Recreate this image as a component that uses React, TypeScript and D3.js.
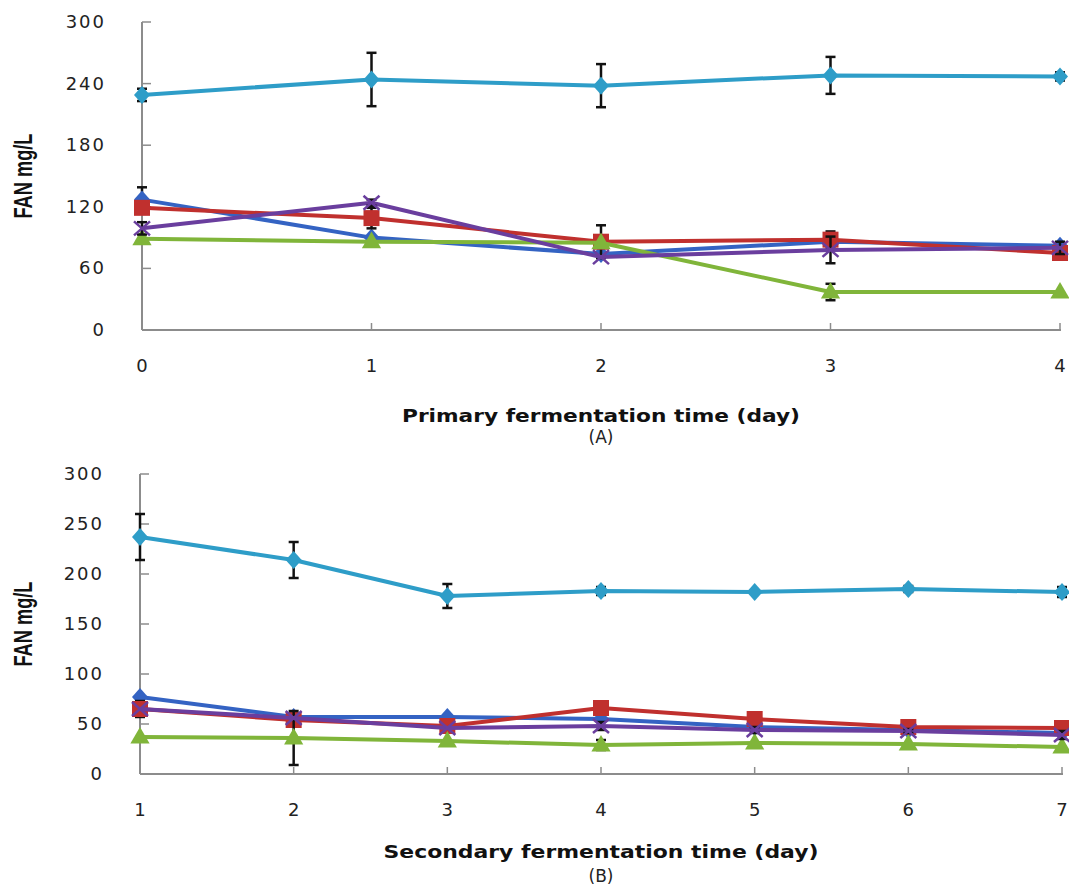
import React, { useEffect, useRef } from "react";
import * as d3 from "d3";

// panel A: primary fermentation
const daysA = [0, 1, 2, 3, 4];
const cyanA = [229, 244, 238, 248, 247];
const cyanErrA = [6, 26, 21, 18, 4];
const blueA = [127, 90, 74, 86, 82];
const blueErrA = [12, 0, 0, 0, 0];
const redA = [119, 109, 86, 88, 75];
const redErrA = [0, 10, 16, 8, 0];
const greenA = [89, 86, 85, 37, 37];
const greenErrA = [0, 0, 0, 8, 0];
const purpleA = [99, 124, 71, 78, 80];
const purpleErrA = [6, 3, 0, 13, 6];
const ticksYA = [0, 60, 120, 180, 240, 300];

// panel B: secondary fermentation
const daysB = [1, 2, 3, 4, 5, 6, 7];
const cyanB = [237, 214, 178, 183, 182, 185, 182];
const cyanErrB = [23, 18, 12, 4, 0, 3, 5];
const blueB = [77, 57, 57, 55, 47, 44, 41];
const blueErrB = [0, 0, 0, 0, 0, 0, 0];
const redB = [65, 54, 48, 66, 55, 47, 46];
const redErrB = [8, 0, 0, 0, 0, 0, 0];
const greenB = [37, 36, 33, 29, 31, 30, 27];
const greenErrB = [0, 27, 0, 5, 0, 0, 0];
const purpleB = [65, 56, 46, 48, 44, 43, 39];
const purpleErrB = [0, 0, 0, 4, 3, 2, 4];
const ticksYB = [0, 50, 100, 150, 200, 250, 300];

const colors = {
  blue: "#3463C3",
  red: "#C0302E",
  green: "#80B53A",
  purple: "#6A3E9E",
  cyan: "#2E9DC8",
};

function drawPanel(svg, opts) {
  const { days, series, ticksY, x0, x1, yTop, yBottom, xTitle, tag, titleW, tickLabelY, titleY, tagY, yTitleY } = opts;
  const x = d3.scaleLinear().domain([days[0], days[days.length - 1]]).range([x0, x1]);
  const y = d3.scaleLinear().domain([0, 300]).range([yBottom, yTop]);
  const g = svg.append("g");

  // axes
  g.append("line").attr("x1", x0).attr("x2", x0).attr("y1", yTop).attr("y2", yBottom)
    .attr("stroke", "#8c8c8c").attr("stroke-width", 2);
  g.append("line").attr("x1", x0).attr("x2", x1 + 1).attr("y1", yBottom).attr("y2", yBottom)
    .attr("stroke", "#8c8c8c").attr("stroke-width", 2);
  ticksY.forEach((t) => {
    g.append("line").attr("x1", x0).attr("x2", x0 + 9).attr("y1", y(t)).attr("y2", y(t))
      .attr("stroke", "#8c8c8c").attr("stroke-width", 1.5);
    g.append("text").attr("x", x0 - 36).attr("y", y(t) + 6).attr("text-anchor", "end")
      .attr("font-family", "DejaVu Sans").attr("font-size", 18).attr("fill", "#222")
      .attr("letter-spacing", 2).text(t);
  });
  days.forEach((d) => {
    g.append("line").attr("x1", x(d)).attr("x2", x(d)).attr("y1", yBottom).attr("y2", yBottom - 7)
      .attr("stroke", "#8c8c8c").attr("stroke-width", 1.5);
    g.append("text").attr("x", x(d)).attr("y", tickLabelY).attr("text-anchor", "middle")
      .attr("font-family", "DejaVu Sans").attr("font-size", 18).attr("fill", "#222").text(d);
  });

  // titles
  g.append("text").attr("x", (x0 + x1) / 2).attr("y", titleY).attr("text-anchor", "middle")
    .attr("font-family", "DejaVu Sans").attr("font-weight", "bold").attr("font-size", 17)
    .attr("fill", "#111").attr("textLength", titleW).attr("lengthAdjust", "spacingAndGlyphs").text(xTitle);
  g.append("text").attr("x", (x0 + x1) / 2).attr("y", tagY).attr("text-anchor", "middle")
    .attr("font-family", "DejaVu Sans").attr("font-size", 17).attr("fill", "#222").text(tag);
  g.append("text").attr("transform", `translate(32,${yTitleY}) rotate(-90)`).attr("text-anchor", "middle")
    .attr("font-family", "Liberation Sans").attr("font-weight", "bold").attr("font-size", 25)
    .attr("fill", "#111").attr("textLength", 85).attr("lengthAdjust", "spacingAndGlyphs").text("FAN mg/L");

  const line = d3.line().x((d) => x(d[0])).y((d) => y(d[1]));

  series.forEach((s) => {
    const pts = days.map((d, i) => [d, s.values[i]]);
    const sg = g.append("g");
    sg.append("path").attr("d", line(pts)).attr("fill", "none").attr("stroke", s.color)
      .attr("stroke-width", 4).attr("stroke-linejoin", "round");
    // error bars
    days.forEach((d, i) => {
      const e = s.err[i];
      if (!e) return;
      const cx = x(d);
      const eg = sg.append("g").attr("stroke", "#111").attr("stroke-width", 2.5);
      eg.append("line").attr("x1", cx).attr("x2", cx).attr("y1", y(s.values[i] + e)).attr("y2", y(s.values[i] - e));
      eg.append("line").attr("x1", cx - 5).attr("x2", cx + 5).attr("y1", y(s.values[i] + e)).attr("y2", y(s.values[i] + e));
      eg.append("line").attr("x1", cx - 5).attr("x2", cx + 5).attr("y1", y(s.values[i] - e)).attr("y2", y(s.values[i] - e));
    });
    // markers
    pts.forEach((p) => {
      const cx = x(p[0]);
      const cy = y(p[1]);
      if (s.marker === "x") {
        sg.append("path").attr("d", `M${cx - 8},${cy - 7}L${cx + 8},${cy + 7}M${cx - 8},${cy + 7}L${cx + 8},${cy - 7}`)
          .attr("stroke", s.color).attr("stroke-width", 2.5);
      } else if (s.marker === "square") {
        sg.append("rect").attr("x", cx - 8).attr("y", cy - 8).attr("width", 16).attr("height", 16).attr("fill", s.color);
      } else if (s.marker === "triangle") {
        sg.append("path").attr("d", d3.symbol(d3.symbolTriangle, 160)()).attr("transform", `translate(${cx},${cy + 1})`)
          .attr("fill", s.color);
      } else {
        sg.append("path").attr("d", `M${cx},${cy - 9}L${cx + 8},${cy}L${cx},${cy + 9}L${cx - 8},${cy}Z`)
          .attr("fill", s.color);
      }
    });
  });
}

export default function App() {
  const ref = useRef(null);

  useEffect(() => {
    const svg = d3.select(ref.current);
    svg.selectAll("*").remove();

    drawPanel(svg, {
      days: daysA,
      ticksY: ticksYA,
      x0: 142, x1: 1060, yTop: 22, yBottom: 330,
      xTitle: "Primary fermentation time (day)", tag: "(A)", titleW: 398,
      tickLabelY: 372, titleY: 422, tagY: 443, yTitleY: 176,
      series: [
        { values: blueA, err: blueErrA, color: colors.blue, marker: "diamond" },
        { values: redA, err: redErrA, color: colors.red, marker: "square" },
        { values: greenA, err: greenErrA, color: colors.green, marker: "triangle" },
        { values: purpleA, err: purpleErrA, color: colors.purple, marker: "x" },
        { values: cyanA, err: cyanErrA, color: colors.cyan, marker: "diamond" },
      ],
    });

    drawPanel(svg, {
      days: daysB,
      ticksY: ticksYB,
      x0: 140, x1: 1062, yTop: 474, yBottom: 774,
      xTitle: "Secondary fermentation time (day)", tag: "(B)", titleW: 435,
      tickLabelY: 816, titleY: 858, tagY: 882, yTitleY: 624,
      series: [
        { values: blueB, err: blueErrB, color: colors.blue, marker: "diamond" },
        { values: redB, err: redErrB, color: colors.red, marker: "square" },
        { values: greenB, err: greenErrB, color: colors.green, marker: "triangle" },
        { values: purpleB, err: purpleErrB, color: colors.purple, marker: "x" },
        { values: cyanB, err: cyanErrB, color: colors.cyan, marker: "diamond" },
      ],
    });
  }, []);

  return (
    <svg ref={ref} width={1069} height={889}
      style={{ position: "absolute", left: 0, top: 0, background: "#fff" }} />
  );
}
